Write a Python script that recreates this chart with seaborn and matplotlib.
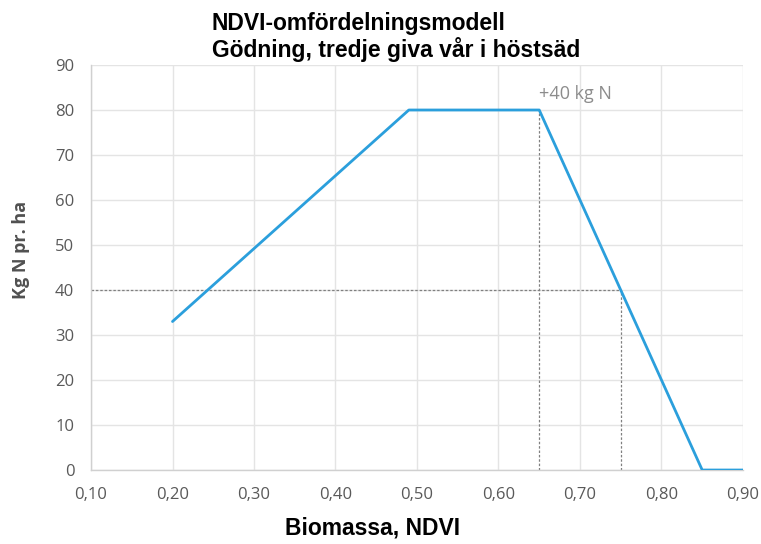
import matplotlib
matplotlib.use('Agg')
import matplotlib.pyplot as plt
from matplotlib.ticker import FuncFormatter
import seaborn as sns
import pandas as pd

# model curve: NDVI -> kg N per ha
ndvi = [0.20, 0.49, 0.65, 0.75, 0.85, 0.90]
kg_n = [33, 80, 80, 40, 0, 0]

# reference guides
guide_y = 40
guide_x = [0.65, 0.75]
guide_top = [80, 40]
note_text = "+40 kg N"

title = "NDVI-omfördelningsmodell\nGödning, tredje giva vår i höstsäd"
xlabel = "Biomassa, NDVI"
ylabel = "Kg N pr. ha"

sns.set_theme(style="white")
plt.rcParams['font.family'] = ['Open Sans', 'DejaVu Sans']

df = pd.DataFrame({"ndvi": ndvi, "kg": kg_n})

fig = plt.figure(figsize=(7.61, 5.44), dpi=100)
ax = fig.add_axes([0.1196, 0.136, 0.8567, 0.7445])

ax.set_axisbelow(True)
ax.grid(True, color='#e4e4e4', linewidth=1)

# dashed guides
ax.plot([0.10, guide_x[1]], [guide_y, guide_y], color='#808080', linestyle=(0, (2, 1.5)), linewidth=0.9, zorder=2)
for gx, gt in zip(guide_x, guide_top):
    ax.plot([gx, gx], [0, gt], color='#808080', linestyle=(0, (2, 1.5)), linewidth=0.9, zorder=2)

sns.lineplot(data=df, x="ndvi", y="kg", ax=ax, color='#2b9fdc', linewidth=2, zorder=3)

ax.text(guide_x[0], 81.5, note_text, color='#8c8c8c', fontsize=13, ha='left', va='bottom')

ax.set_xlim(0.10, 0.90)
ax.set_ylim(0, 90)
ax.set_xticks([0.1 * i for i in range(1, 10)])
ax.set_yticks(range(0, 91, 10))
ax.xaxis.set_major_formatter(FuncFormatter(lambda v, p: f"{v:.2f}".replace('.', ',')))
ax.tick_params(colors='#595959', labelsize=12, length=0)
ax.tick_params(axis='y', pad=12)
ax.tick_params(axis='x', pad=12)

for s in ['top', 'right']:
    ax.spines[s].set_visible(False)
for s in ['left', 'bottom']:
    ax.spines[s].set_color('#d0d0d0')
    ax.spines[s].set_linewidth(1)

ax.set_xlabel("")
ax.set_ylabel("")

fig.text(0.027, 0.54, ylabel, fontweight='bold', fontsize=13, color='#505050',
         rotation=90, ha='center', va='center')

fig.text(0.489, 0.008, xlabel, family=['Liberation Sans', 'DejaVu Sans'], fontweight='bold', fontsize=16.5,
         ha='center', va='bottom', color='black')

fig.text(0.278, 0.978, title, family=['Liberation Sans', 'DejaVu Sans'], fontweight='bold', fontsize=16.5,
         ha='left', va='top', color='black', linespacing=1.12)

fig.savefig("out.png", dpi=100, facecolor='white')
